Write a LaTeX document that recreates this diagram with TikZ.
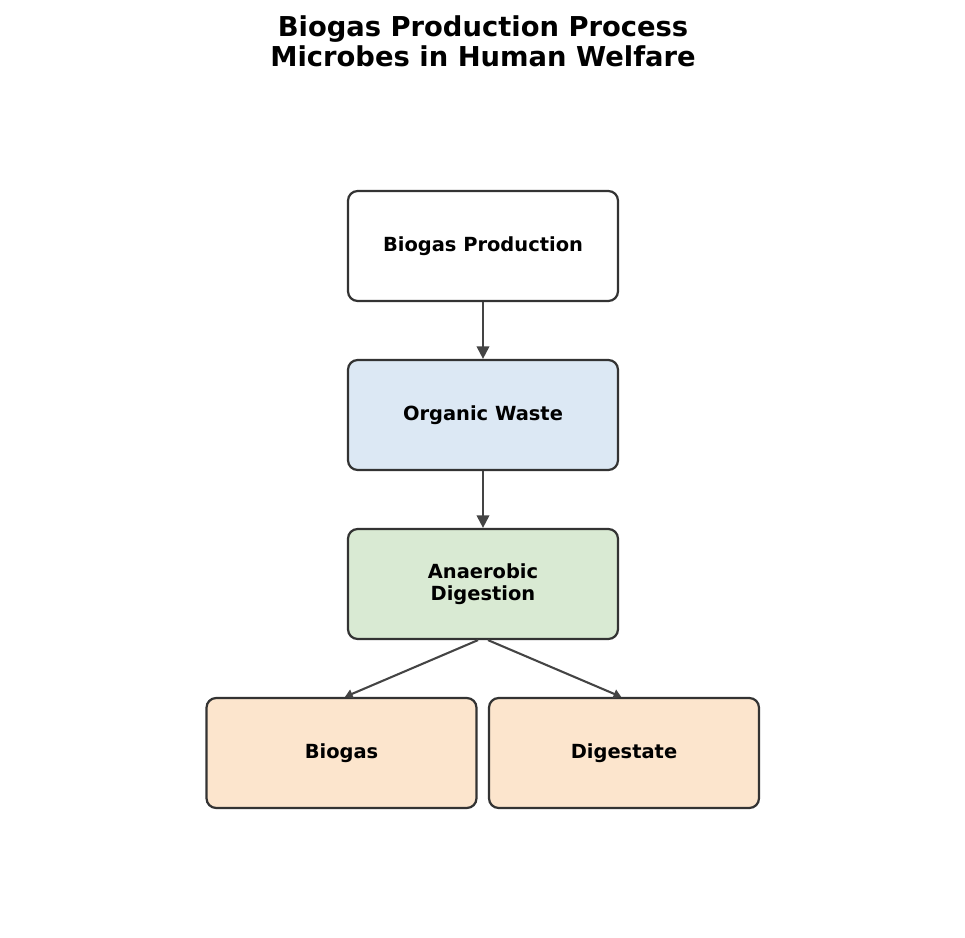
\documentclass[tikz,border=0pt]{standalone}
\usepackage{fontspec}
\setmainfont{DejaVu Sans}
\usetikzlibrary{arrows.meta,positioning}
\definecolor{Edge}{HTML}{333333}
\definecolor{Arrow}{HTML}{444444}
\definecolor{Waste}{HTML}{DCE8F4}
\definecolor{Digest}{HTML}{D9EAD3}
\definecolor{Output}{HTML}{FCE5CD}

\begin{document}
\begin{tikzpicture}[x=0.72pt, y=-0.72pt,
  every node/.style={font=\bfseries, align=center},
  box/.style={draw=Edge, line width=1.6pt, rounded corners=7pt,
              minimum width=194.4pt, minimum height=79.2pt, font=\fontsize{14}{16}\bfseries},
  flow/.style={draw=Arrow, line width=1.5pt, -{Triangle[length=9pt,width=9pt]}},
  split/.style={draw=Arrow, line width=1.5pt, -{Triangle[length=5.5pt,width=6.5pt]}}]
  \useasboundingbox (0,0) rectangle (965,938);
  \node[font=\fontsize{19.7}{21.6}\bfseries] (title) at (483,41)
    {Biogas Production Process\\Microbes in Human Welfare};
  \node[box, fill=white]  (prod)   at (483,246) {Biogas Production};
  \node[box, fill=Waste]  (waste)  at (483,415) {Organic Waste};
  \node[box, fill=Digest] (anaer)  at (483,584) {Anaerobic\\Digestion};
  \node[box, fill=Output] (biogas) at (341.5,753) {Biogas};
  \node[box, fill=Output] (digest) at (624,753) {Digestate};
  \draw[flow] (prod) -- (waste);
  \draw[flow] (waste) -- (anaer);
  \draw[split] ([xshift=-3.6pt]anaer.south) -- ([xshift=2.5pt]biogas.north);
  \draw[split] ([xshift=3.6pt]anaer.south) -- ([xshift=-2pt]digest.north);
\end{tikzpicture}
\end{document}
